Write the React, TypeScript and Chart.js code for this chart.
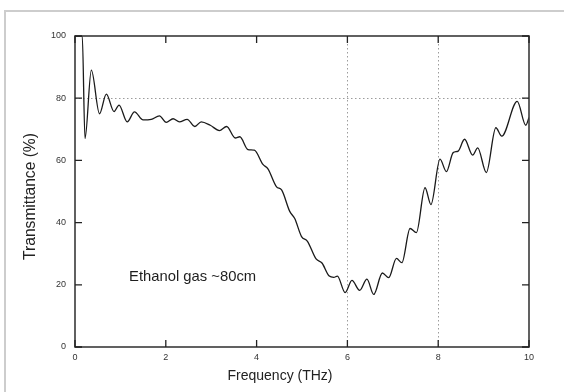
import React, { useEffect, useRef } from "react";
import { Chart, registerables } from "chart.js";

Chart.register(...registerables);

// Frequency (THz) at the extrema / knees of the measured curve
const frequency = [
  0, 0.16, 0.22, 0.36, 0.54, 0.69, 0.86, 0.97, 1.15, 1.31,
  1.5, 1.68, 1.86, 2.01, 2.16, 2.3, 2.47, 2.64, 2.78, 2.98,
  3.18, 3.34, 3.53, 3.63, 3.81, 3.95, 4.14, 4.25, 4.44, 4.55,
  4.73, 4.84, 4.99, 5.12, 5.31, 5.44, 5.6, 5.7, 5.78, 5.95,
  6.1, 6.27, 6.43, 6.58, 6.77, 6.91, 7.08, 7.2, 7.38, 7.52,
  7.71, 7.84, 8.04, 8.18, 8.33, 8.44, 8.58, 8.76, 8.87, 9.06,
  9.27, 9.4, 9.74, 9.93, 10.0,
];

// Transmittance (%)
const transmittance = [
  100, 100, 67, 89, 75, 81.3, 75.7, 77.8, 72.4, 75.6,
  73.0, 73.2, 74.3, 72.2, 73.4, 72.4, 73.2, 70.9, 72.4, 71.3,
  69.6, 70.9, 67.2, 67.6, 63.5, 63.3, 58.7, 57.3, 51.5, 50.5,
  43.6, 41.3, 35.5, 34.0, 28.3, 27.0, 22.8, 22.4, 22.8, 17.5,
  21.4, 18.2, 21.8, 16.9, 23.8, 22.3, 28.5, 27.1, 38.1, 36.8,
  51.2, 45.8, 60.4, 56.4, 62.5, 63.0, 66.8, 61.7, 64.0, 56.1,
  70.5, 67.8, 79.0, 71.3, 73.8,
];

const xTickValues = [0, 2, 4, 6, 8, 10];
const yTickValues = [0, 20, 40, 60, 80, 100];
const xGridValues = [6, 8];
const yGridValues = [80];

const xTitle = "Frequency (THz)";
const yTitle = "Transmittance (%)";
const annotationText = "Ethanol gas ~80cm";
const annotationAt = { x: 1.19, y: 21.3 };

const FONT = '"Liberation Sans", Arial, Helvetica, sans-serif';

const framePlugin = {
  id: "framePlugin",
  beforeDatasetsDraw(chart: any) {
    const { ctx, chartArea: a, scales } = chart;
    const x = scales.x;
    const y = scales.y;
    ctx.save();
    ctx.strokeStyle = "#9c9c9c";
    ctx.lineWidth = 1;
    ctx.setLineDash([1.5, 2.5]);
    xGridValues.forEach((v) => {
      const px = Math.round(x.getPixelForValue(v)) + 0.5;
      ctx.beginPath();
      ctx.moveTo(px, a.top);
      ctx.lineTo(px, a.bottom);
      ctx.stroke();
    });
    yGridValues.forEach((v) => {
      const py = Math.round(y.getPixelForValue(v)) + 0.5;
      ctx.beginPath();
      ctx.moveTo(a.left, py);
      ctx.lineTo(a.right, py);
      ctx.stroke();
    });
    ctx.restore();
  },
  afterDatasetsDraw(chart: any) {
    const { ctx, chartArea: a, scales } = chart;
    const x = scales.x;
    const y = scales.y;
    const tick = 7;
    ctx.save();
    ctx.setLineDash([]);
    ctx.strokeStyle = "#3a3a3a";
    ctx.lineWidth = 1.6;
    ctx.strokeRect(a.left, a.top, a.right - a.left, a.bottom - a.top);
    ctx.lineWidth = 1.3;
    ctx.strokeStyle = "#222";
    xTickValues.forEach((v) => {
      const px = x.getPixelForValue(v);
      ctx.beginPath();
      ctx.moveTo(px, a.bottom);
      ctx.lineTo(px, a.bottom - tick);
      ctx.moveTo(px, a.top);
      ctx.lineTo(px, a.top + tick);
      ctx.stroke();
    });
    yTickValues.forEach((v) => {
      const py = y.getPixelForValue(v);
      ctx.beginPath();
      ctx.moveTo(a.left, py);
      ctx.lineTo(a.left + tick, py);
      ctx.moveTo(a.right, py);
      ctx.lineTo(a.right - tick, py);
      ctx.stroke();
    });
    ctx.fillStyle = "#1e1e1e";
    ctx.font = `14.8px ${FONT}`;
    ctx.textAlign = "left";
    ctx.textBaseline = "alphabetic";
    ctx.fillText(
      annotationText,
      x.getPixelForValue(annotationAt.x),
      y.getPixelForValue(annotationAt.y)
    );
    // y-axis title (rotated), centred slightly below the plot's middle as in the source
    ctx.save();
    ctx.translate(31, (a.top + a.bottom) / 2 + 5);
    ctx.rotate(-Math.PI / 2);
    ctx.font = `15.6px ${FONT}`;
    ctx.fillStyle = "#222";
    ctx.textAlign = "center";
    ctx.textBaseline = "middle";
    ctx.fillText(yTitle, 0, 0);
    ctx.restore();
    ctx.restore();
  },
};

export default function App() {
  const ref = useRef<HTMLCanvasElement | null>(null);

  useEffect(() => {
    if (!ref.current) return;
    const points = frequency.map((f, i) => ({ x: f, y: transmittance[i] }));
    const tickFont = { size: 9, family: FONT };
    const chart = new Chart(ref.current, {
      type: "line",
      data: {
        datasets: [
          {
            data: points,
            borderColor: "#1a1a1a",
            borderWidth: 1.3,
            pointRadius: 0,
            fill: false,
            cubicInterpolationMode: "monotone",
          },
        ],
      },
      options: {
        responsive: false,
        animation: false,
        devicePixelRatio: 1,
        layout: { padding: { left: 0, right: 4, top: 36, bottom: 0 } },
        plugins: {
          legend: { display: false },
          tooltip: { enabled: false },
          title: {
            display: true,
            position: "bottom",
            text: xTitle,
            color: "#222",
            font: { size: 14, family: FONT, weight: "normal" },
            padding: { top: 0, bottom: 7.6 },
          },
        },
        scales: {
          x: {
            type: "linear",
            position: "bottom",
            min: 0,
            max: 10,
            afterBuildTicks: (s: any) => {
              s.ticks = xTickValues.map((v) => ({ value: v }));
            },
            ticks: {
              padding: 5.6,
              color: "#333",
              font: tickFont,
              maxRotation: 0,
              autoSkip: false,
            },
            grid: { display: false, drawTicks: false },
            border: { display: false },
            afterFit: (s: any) => {
              s.height = 20.6;
            },
          },
          y: {
            type: "linear",
            position: "left",
            min: 0,
            max: 100,
            afterBuildTicks: (s: any) => {
              s.ticks = yTickValues.map((v) => ({ value: v }));
            },
            ticks: { padding: 9, color: "#333", font: tickFont },
            grid: { display: false, drawTicks: false },
            border: { display: false },
            afterFit: (s: any) => {
              s.width = 75;
            },
          },
          y2: {
            type: "linear",
            position: "right",
            ticks: { display: false },
            grid: { display: false, drawTicks: false },
            border: { display: false },
            afterFit: (s: any) => {
              s.width = 31;
            },
          },
        },
      },
      plugins: [framePlugin],
    } as any);
    return () => chart.destroy();
  }, []);

  return (
    <div
      style={{
        position: "fixed",
        left: 0,
        top: 0,
        width: 564,
        height: 392,
        background: "#fff",
        overflow: "hidden",
      }}
    >
      <div
        style={{
          position: "absolute",
          left: 4,
          top: 10,
          width: 600,
          height: 420,
          borderTop: "2px solid #cdcdcd",
          borderLeft: "2px solid #cdcdcd",
        }}
      />
      <canvas
        ref={ref}
        width={564}
        height={392}
        style={{ position: "absolute", left: 0, top: 0, width: 564, height: 392 }}
      />
    </div>
  );
}
